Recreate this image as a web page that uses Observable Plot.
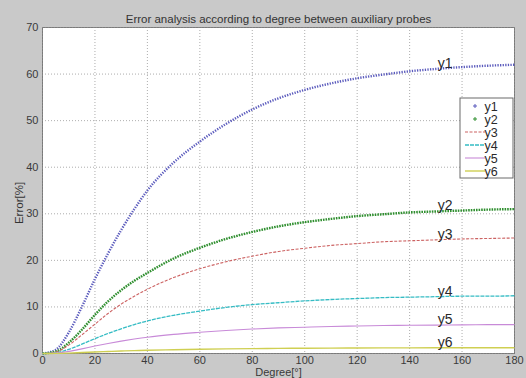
<!DOCTYPE html>
<html>
<head>
<meta charset="utf-8">
<script src="https://cdn.jsdelivr.net/npm/d3@7"></script>
<script src="https://cdn.jsdelivr.net/npm/@observablehq/plot@0.6"></script>
<style>
  html, body { margin: 0; padding: 0; background: #c9c9c9; }
  #chart svg { display: block; }
</style>
</head>
<body>
<div id="chart"></div>
<script>
// Angle between the auxiliary probes, in degrees
const degrees = [0, 5, 10, 15, 20, 25, 30, 35, 40, 50, 60, 70, 80, 90, 100, 110, 120, 130, 140, 150, 160, 170, 180];

// Error [%] for each configuration
const y1 = [0, 0.8, 4.5, 10, 16, 21.5, 26.5, 31, 35, 41, 45.5, 49.3, 52.4, 54.8, 56.6, 58, 59.1, 59.9, 60.6, 61.1, 61.5, 61.8, 62];
const y2 = [0, 0.4, 2.3, 5.1, 8.3, 11.2, 13.6, 15.6, 17.3, 20.4, 22.7, 24.6, 26.1, 27.3, 28.2, 28.9, 29.5, 29.9, 30.3, 30.5, 30.7, 30.9, 31];
const y3 = [0, 0.3, 1.8, 4, 6.3, 8.6, 10.6, 12.3, 13.8, 16.3, 18.2, 19.7, 20.9, 21.9, 22.6, 23.2, 23.6, 24, 24.2, 24.4, 24.6, 24.7, 24.8];
const y4 = [0, 0.15, 0.9, 2, 3.2, 4.3, 5.3, 6.2, 7, 8.2, 9.1, 9.9, 10.5, 10.9, 11.3, 11.6, 11.8, 12, 12.1, 12.2, 12.3, 12.3, 12.4];
const y5 = [0, 0.08, 0.45, 1, 1.6, 2.15, 2.65, 3.1, 3.5, 4.1, 4.55, 4.95, 5.25, 5.5, 5.65, 5.8, 5.9, 6, 6.05, 6.1, 6.15, 6.2, 6.2];
const y6 = [0, 0.02, 0.09, 0.2, 0.32, 0.43, 0.53, 0.62, 0.7, 0.82, 0.91, 0.99, 1.05, 1.1, 1.13, 1.16, 1.18, 1.2, 1.21, 1.22, 1.23, 1.24, 1.25];

const seriesNames = ["y1", "y2", "y3", "y4", "y5", "y6"];
const xTicks = [0, 20, 40, 60, 80, 100, 120, 140, 160, 180];
const yTicks = [0, 10, 20, 30, 40, 50, 60, 70];
const titleText = "Error analysis according to degree between auxiliary probes";
const xLabel = "Degree[°]";
const yLabel = "Error[%]";
const labelDegree = 150;

const styles = {
  y1: {stroke: "#5b5bbd", width: 2.4, dash: "1.3,1.3", kind: "marker"},
  y2: {stroke: "#2f8f2f", width: 2.4, dash: "1.6,1", kind: "marker"},
  y3: {stroke: "#cc6262", width: 1.1, dash: "3,1.5", kind: "line"},
  y4: {stroke: "#35bcc4", width: 1.3, dash: "4,1", kind: "line"},
  y5: {stroke: "#c88ad8", width: 1.1, dash: null, kind: "line"},
  y6: {stroke: "#cfcf52", width: 1.4, dash: null, kind: "line"}
};

const values = {y1, y2, y3, y4, y5, y6};
const rows = seriesNames.flatMap(s => degrees.map((d, i) => ({series: s, degree: d, error: values[s][i]})));
const labelRows = seriesNames.map(s => ({series: s, degree: labelDegree, error: values[s][degrees.indexOf(labelDegree)]}));

const font = "'Liberation Sans', Arial, sans-serif";

const lineMarks = seriesNames.map(s => Plot.line(rows.filter(r => r.series === s), {
  x: "degree", y: "error", curve: "monotone-x",
  stroke: styles[s].stroke, strokeWidth: styles[s].width,
  strokeDasharray: styles[s].dash, strokeLinecap: "butt"
}));

const chart = Plot.plot({
  width: 526,
  height: 378,
  marginLeft: 42,
  marginRight: 12,
  marginTop: 27,
  marginBottom: 25,
  style: {background: "#c9c9c9", fontFamily: font, fontSize: "11px", color: "#3a3a3a"},
  x: {domain: [0, 180], ticks: xTicks, tickSize: 0, tickPadding: 3, label: xLabel, labelAnchor: "center", labelArrow: "none", labelOffset: 22},
  y: {domain: [0, 70], ticks: yTicks, tickSize: 0, tickPadding: 4, label: null},
  marks: [
    Plot.frame({fill: "white", stroke: "#7a7a7a"}),
    Plot.gridX(xTicks, {stroke: "#8a8a8a", strokeOpacity: 0.7, strokeDasharray: "1,2"}),
    Plot.gridY(yTicks, {stroke: "#8a8a8a", strokeOpacity: 0.7, strokeDasharray: "1,2"}),
    ...lineMarks,
    Plot.text(labelRows, {
      x: "degree", y: "error", text: "series", textAnchor: "start", lineAnchor: "bottom",
      dx: 2, dy: -1, fontSize: 14, fill: "#2a2a2a"
    }),
    Plot.text([titleText], {frameAnchor: "top", dy: -13, fontSize: 11.5, fill: "#333"})
  ]
});

const svg = d3.select(chart);

// Rotated y-axis title
svg.append("text")
  .attr("transform", "translate(23,203) rotate(-90)")
  .attr("text-anchor", "middle")
  .attr("font-family", font).attr("font-size", 11.5)
  .attr("fill", "#333")
  .text(yLabel);

// Legend box in the upper right of the plot area
const lx = 460, ly = 98, lw = 53, lh = 80, step = 13;
const g = svg.append("g").attr("font-family", font).attr("font-size", 12.5);
g.append("rect").attr("x", lx).attr("y", ly).attr("width", lw).attr("height", lh)
  .attr("fill", "white").attr("stroke", "#6a6a6a");
seriesNames.forEach((s, i) => {
  const cy = ly + 8 + i * step;
  const st = styles[s];
  if (st.kind === "marker") {
    g.append("path").attr("d", `M${lx + 13},${cy} h4 M${lx + 15},${cy - 2} v4`)
      .attr("stroke", st.stroke).attr("stroke-width", 1);
  } else {
    g.append("line").attr("x1", lx + 5).attr("x2", lx + 25).attr("y1", cy).attr("y2", cy)
      .attr("stroke", st.stroke).attr("stroke-width", st.width)
      .attr("stroke-dasharray", st.dash);
  }
  g.append("text").attr("x", lx + 31).attr("y", cy + 4.5)
    .attr("fill", "#2a2a2a").text(s);
});

document.getElementById("chart").appendChild(chart);
</script>
</body>
</html>
